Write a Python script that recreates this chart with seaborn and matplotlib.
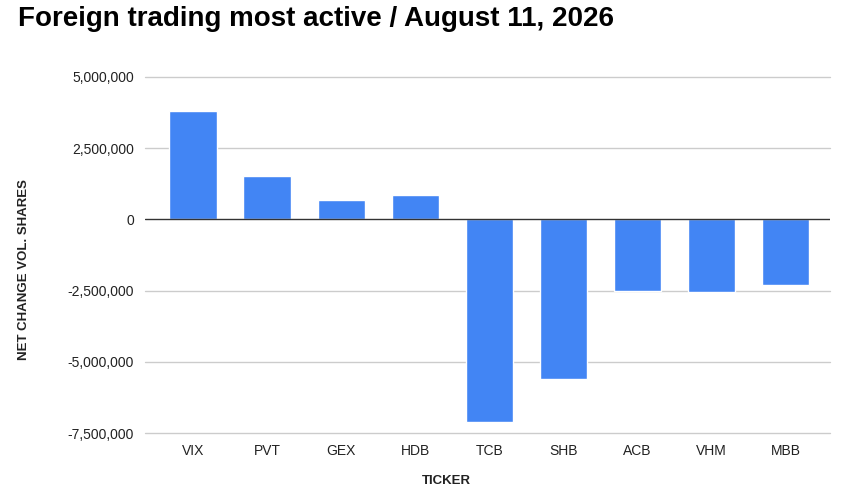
import matplotlib
matplotlib.use("Agg")
import matplotlib.pyplot as plt
import matplotlib.ticker as mticker
import seaborn as sns
import pandas as pd

tickers = ["VIX", "PVT", "GEX", "HDB", "TCB", "SHB", "ACB", "VHM", "MBB"]
net_change = [3820000, 1510000, 670000, 870000, -7120000, -5620000, -2520000, -2550000, -2320000]
yticks = [-7500000, -5000000, -2500000, 0, 2500000, 5000000]

df = pd.DataFrame({"TICKER": tickers, "NET CHANGE VOL. SHARES": net_change})

sns.set_theme(style="white")
plt.rcParams['font.family'] = ['Liberation Sans', 'DejaVu Sans']

fig = plt.figure(figsize=(8.65, 4.91), dpi=100)
ax = fig.add_axes([0.1676, 0.1181, 0.9595 - 0.1676, 0.8432 - 0.1181])

sns.barplot(data=df, x="TICKER", y="NET CHANGE VOL. SHARES", color="#4285F4",
            saturation=1, width=0.64, ax=ax, zorder=3)

ax.set_ylim(yticks[0], yticks[-1])
ax.set_xlim(-0.65, 8.6)
ax.set_yticks(yticks)
ax.yaxis.set_major_formatter(mticker.FuncFormatter(lambda v, p: f"{int(v):,}"))
for t in yticks:
    if t != 0:
        ax.axhline(t, color="#cccccc", linewidth=1, zorder=0, clip_on=False)
ax.axhline(0, color="#333333", linewidth=1, zorder=4)
for s in ax.spines.values():
    s.set_visible(False)
ax.tick_params(axis="both", length=0, labelsize=10, colors="#222222")
ax.tick_params(axis="y", pad=8)
ax.tick_params(axis="x", pad=8)

ax.set_xlabel("TICKER", fontsize=9.5, fontweight="bold", color="#222222")
ax.xaxis.set_label_coords(0.44, -0.118, transform=ax.transAxes)
ax.set_ylabel("NET CHANGE VOL. SHARES", fontsize=9.5, fontweight="bold", color="#222222")
ax.yaxis.set_label_coords(-0.168, 0.458)

fig.text(18 / 865, 1 - 19 / 491, "Foreign trading most active / August 11, 2026",
         fontsize=20, fontweight="bold", color="#000000", va="center", ha="left")

fig.savefig("out.png", dpi=100)
